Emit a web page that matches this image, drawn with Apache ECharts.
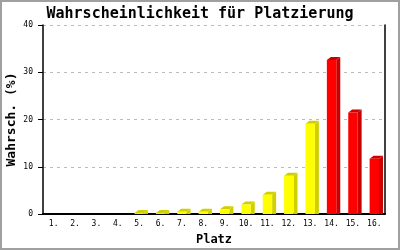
<!DOCTYPE html>
<html>
<head>
<meta charset="utf-8">
<script src="https://cdn.jsdelivr.net/npm/echarts@6/dist/echarts.min.js"></script>
<style>html,body{margin:0;padding:0;background:#fff}#c{width:400px;height:250px}</style>
</head>
<body>
<div id="c"></div>
<script>
var categories = ['1.','2.','3.','4.','5.','6.','7.','8.','9.','10.','11.','12.','13.','14.','15.','16.'];
var values = [0, 0, 0, 0, 0.2, 0.2, 0.5, 0.5, 1.0, 2.0, 4.1, 8.1, 19.1, 32.6, 21.5, 11.7];
var yTicks = [0, 10, 20, 30, 40];
var highlightFrom = 13;

var chart = echarts.init(document.getElementById('c'), null, {renderer: 'canvas'});
var mono = '"DejaVu Sans Mono", monospace';

function renderItem(params, api) {
  var idx = api.value(0), v = api.value(1);
  if (!(v > 0)) return null;
  var top = api.coord([idx, v]);
  var base = api.coord([idx, 0]);
  var bw = api.size([1, 0])[0] * 0.44;
  var dx = 4, dy = 3;
  var x = top[0] - bw / 2;
  var red = idx >= highlightFrom;
  var front = red ? '#ff0000' : '#ffff00';
  var dark = red ? '#cc0000' : '#d0d000';
  var y0 = base[1], y1 = top[1];
  return {
    type: 'group',
    children: [
      {type: 'polygon', shape: {points: [[x + bw, y1], [x + bw + dx, y1 - dy], [x + bw + dx, y0], [x + bw, y0]]}, style: {fill: dark}},
      {type: 'polygon', shape: {points: [[x, y1], [x + dx, y1 - dy], [x + bw + dx, y1 - dy], [x + bw, y1]]}, style: {fill: dark}},
      {type: 'rect', shape: {x: x, y: y1, width: bw, height: y0 - y1}, style: {fill: front}}
    ]
  };
}

chart.setOption({
  animation: false,
  backgroundColor: '#fff',
  title: {
    text: 'Wahrscheinlichkeit für Platzierung',
    left: 'center', top: 2,
    textStyle: {fontFamily: mono, fontSize: 15, fontWeight: 'bold', color: '#000'}
  },
  grid: {left: 43, right: 15, top: 25, bottom: 36, containLabel: false, outerBoundsMode: 'none'},
  xAxis: {
    type: 'category',
    data: categories,
    name: 'Platz',
    nameLocation: 'middle',
    nameGap: 20,
    nameMoveOverlap: false,
    nameTextStyle: {fontFamily: mono, fontSize: 12, fontWeight: 'bold', color: '#000'},
    axisLine: {lineStyle: {color: '#000', width: 2}},
    axisTick: {show: false},
    axisLabel: {fontFamily: mono, fontSize: 8, color: '#000', margin: 6, interval: 0},
    splitLine: {show: false}
  },
  yAxis: [{
    type: 'value',
    min: yTicks[0], max: yTicks[yTicks.length - 1], interval: 10,
    name: 'Wahrsch. (%)',
    nameLocation: 'middle',
    nameGap: 25,
    nameMoveOverlap: false,
    nameTextStyle: {fontFamily: mono, fontSize: 13, fontWeight: 'bold', color: '#000'},
    axisLine: {show: true, lineStyle: {color: '#000', width: 1.5}},
    axisTick: {show: true, length: 5, lineStyle: {color: '#000'}},
    axisLabel: {fontFamily: mono, fontSize: 8, color: '#000', margin: 10},
    splitLine: {show: true, lineStyle: {color: '#bbbbbb', type: [3, 4], width: 1}}
  }, {
    type: 'value',
    position: 'right',
    min: yTicks[0], max: yTicks[yTicks.length - 1], interval: 10,
    axisLine: {show: true, lineStyle: {color: '#000', width: 1.5}},
    axisTick: {show: false},
    axisLabel: {show: false},
    splitLine: {show: false}
  }],
  series: [{
    type: 'custom',
    renderItem: renderItem,
    encode: {x: 0, y: 1},
    data: values.map(function (v, i) { return [i, v]; })
  }],
  graphic: [{
    type: 'rect',
    shape: {x: 1, y: 1, width: 398, height: 248},
    style: {fill: null, stroke: '#a0a0a0', lineWidth: 2},
    silent: true
  }]
});
</script>
</body>
</html>
